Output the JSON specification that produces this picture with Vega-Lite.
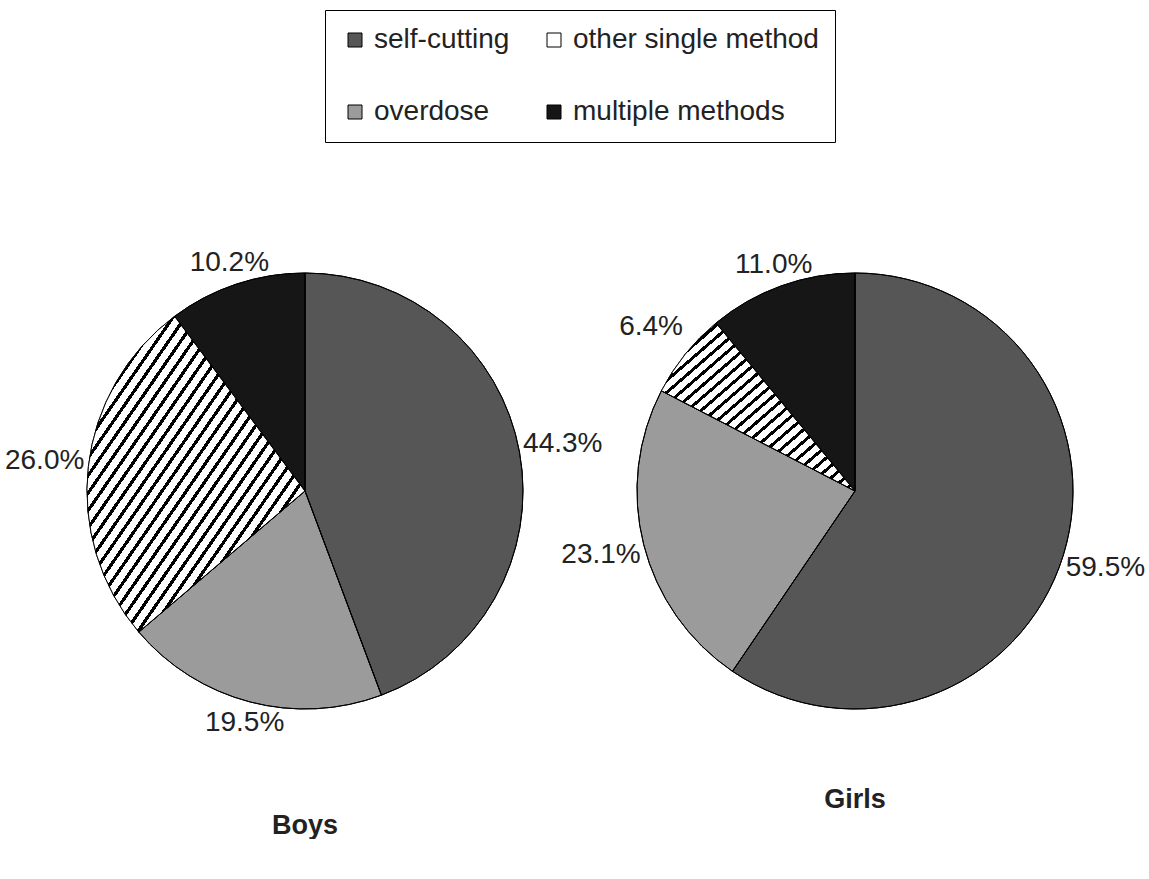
{
  "$schema": "https://vega.github.io/schema/vega-lite/v6.json",
  "padding": {"left": 0, "top": 9, "right": 0, "bottom": 0},
  "background": "white",
  "bounds": "flush",
  "data": {"values": [
    {"sex": "Boys", "method": "self-cutting", "pct": 44.3, "label": "44.3%", "ord": 1},
    {"sex": "Boys", "method": "overdose", "pct": 19.5, "label": "19.5%", "ord": 2},
    {"sex": "Boys", "method": "other single method", "pct": 26.0, "label": "26.0%", "ord": 3},
    {"sex": "Boys", "method": "multiple methods", "pct": 10.2, "label": "10.2%", "ord": 4},
    {"sex": "Girls", "method": "self-cutting", "pct": 59.5, "label": "59.5%", "ord": 1},
    {"sex": "Girls", "method": "overdose", "pct": 23.1, "label": "23.1%", "ord": 2},
    {"sex": "Girls", "method": "other single method", "pct": 6.4, "label": "6.4%", "ord": 3},
    {"sex": "Girls", "method": "multiple methods", "pct": 11.0, "label": "11.0%", "ord": 4}
  ]},
  "spacing": 0,
  "hconcat": [
    {
      "width": 610, "height": 600,
      "title": {"text": "Boys", "orient": "bottom", "offset": 22, "anchor": "middle"},
      "transform": [{"filter": "datum.sex === 'Boys'"}],
      "layer": [
        {
          "mark": {"type": "arc", "outerRadius": 218, "stroke": "#000000", "strokeWidth": 1},
          "encoding": {
            "theta": {"field": "pct", "type": "quantitative", "stack": true},
            "order": {"field": "ord", "type": "quantitative"},
            "color": {"field": "method", "type": "nominal",
              "scale": {"domain": ["self-cutting", "overdose", "other single method", "multiple methods"],
                "range": ["#565656", "#9b9b9b", "#ffffff", "#161616"]},
              "legend": {"title": null}}
          }
        },
        {
          "mark": {"type": "arc", "outerRadius": 218, "strokeWidth": 0,
            "fill": {"gradient": "linear", "x1": 0, "y1": 0, "x2": 1, "y2": 1, "stops": [
{"offset":0,"color":"#000"},{"offset":0.009,"color":"#000"},{"offset":0.009,"color":"#fff"},{"offset":0.0278,"color":"#fff"},
{"offset":0.0278,"color":"#000"},{"offset":0.0368,"color":"#000"},{"offset":0.0368,"color":"#fff"},{"offset":0.0556,"color":"#fff"},
{"offset":0.0556,"color":"#000"},{"offset":0.0646,"color":"#000"},{"offset":0.0646,"color":"#fff"},{"offset":0.0833,"color":"#fff"},
{"offset":0.0833,"color":"#000"},{"offset":0.0923,"color":"#000"},{"offset":0.0923,"color":"#fff"},{"offset":0.1111,"color":"#fff"},
{"offset":0.1111,"color":"#000"},{"offset":0.1201,"color":"#000"},{"offset":0.1201,"color":"#fff"},{"offset":0.1389,"color":"#fff"},
{"offset":0.1389,"color":"#000"},{"offset":0.1479,"color":"#000"},{"offset":0.1479,"color":"#fff"},{"offset":0.1667,"color":"#fff"},
{"offset":0.1667,"color":"#000"},{"offset":0.1757,"color":"#000"},{"offset":0.1757,"color":"#fff"},{"offset":0.1944,"color":"#fff"},
{"offset":0.1944,"color":"#000"},{"offset":0.2034,"color":"#000"},{"offset":0.2034,"color":"#fff"},{"offset":0.2222,"color":"#fff"},
{"offset":0.2222,"color":"#000"},{"offset":0.2312,"color":"#000"},{"offset":0.2312,"color":"#fff"},{"offset":0.25,"color":"#fff"},
{"offset":0.25,"color":"#000"},{"offset":0.259,"color":"#000"},{"offset":0.259,"color":"#fff"},{"offset":0.2778,"color":"#fff"},
{"offset":0.2778,"color":"#000"},{"offset":0.2868,"color":"#000"},{"offset":0.2868,"color":"#fff"},{"offset":0.3056,"color":"#fff"},
{"offset":0.3056,"color":"#000"},{"offset":0.3146,"color":"#000"},{"offset":0.3146,"color":"#fff"},{"offset":0.3333,"color":"#fff"},
{"offset":0.3333,"color":"#000"},{"offset":0.3423,"color":"#000"},{"offset":0.3423,"color":"#fff"},{"offset":0.3611,"color":"#fff"},
{"offset":0.3611,"color":"#000"},{"offset":0.3701,"color":"#000"},{"offset":0.3701,"color":"#fff"},{"offset":0.3889,"color":"#fff"},
{"offset":0.3889,"color":"#000"},{"offset":0.3979,"color":"#000"},{"offset":0.3979,"color":"#fff"},{"offset":0.4167,"color":"#fff"},
{"offset":0.4167,"color":"#000"},{"offset":0.4257,"color":"#000"},{"offset":0.4257,"color":"#fff"},{"offset":0.4444,"color":"#fff"},
{"offset":0.4444,"color":"#000"},{"offset":0.4534,"color":"#000"},{"offset":0.4534,"color":"#fff"},{"offset":0.4722,"color":"#fff"},
{"offset":0.4722,"color":"#000"},{"offset":0.4812,"color":"#000"},{"offset":0.4812,"color":"#fff"},{"offset":0.5,"color":"#fff"},
{"offset":0.5,"color":"#000"},{"offset":0.509,"color":"#000"},{"offset":0.509,"color":"#fff"},{"offset":0.5278,"color":"#fff"},
{"offset":0.5278,"color":"#000"},{"offset":0.5368,"color":"#000"},{"offset":0.5368,"color":"#fff"},{"offset":0.5556,"color":"#fff"},
{"offset":0.5556,"color":"#000"},{"offset":0.5646,"color":"#000"},{"offset":0.5646,"color":"#fff"},{"offset":0.5833,"color":"#fff"},
{"offset":0.5833,"color":"#000"},{"offset":0.5923,"color":"#000"},{"offset":0.5923,"color":"#fff"},{"offset":0.6111,"color":"#fff"},
{"offset":0.6111,"color":"#000"},{"offset":0.6201,"color":"#000"},{"offset":0.6201,"color":"#fff"},{"offset":0.6389,"color":"#fff"},
{"offset":0.6389,"color":"#000"},{"offset":0.6479,"color":"#000"},{"offset":0.6479,"color":"#fff"},{"offset":0.6667,"color":"#fff"},
{"offset":0.6667,"color":"#000"},{"offset":0.6757,"color":"#000"},{"offset":0.6757,"color":"#fff"},{"offset":0.6944,"color":"#fff"},
{"offset":0.6944,"color":"#000"},{"offset":0.7034,"color":"#000"},{"offset":0.7034,"color":"#fff"},{"offset":0.7222,"color":"#fff"},
{"offset":0.7222,"color":"#000"},{"offset":0.7312,"color":"#000"},{"offset":0.7312,"color":"#fff"},{"offset":0.75,"color":"#fff"},
{"offset":0.75,"color":"#000"},{"offset":0.759,"color":"#000"},{"offset":0.759,"color":"#fff"},{"offset":0.7778,"color":"#fff"},
{"offset":0.7778,"color":"#000"},{"offset":0.7868,"color":"#000"},{"offset":0.7868,"color":"#fff"},{"offset":0.8056,"color":"#fff"},
{"offset":0.8056,"color":"#000"},{"offset":0.8146,"color":"#000"},{"offset":0.8146,"color":"#fff"},{"offset":0.8333,"color":"#fff"},
{"offset":0.8333,"color":"#000"},{"offset":0.8423,"color":"#000"},{"offset":0.8423,"color":"#fff"},{"offset":0.8611,"color":"#fff"},
{"offset":0.8611,"color":"#000"},{"offset":0.8701,"color":"#000"},{"offset":0.8701,"color":"#fff"},{"offset":0.8889,"color":"#fff"},
{"offset":0.8889,"color":"#000"},{"offset":0.8979,"color":"#000"},{"offset":0.8979,"color":"#fff"},{"offset":0.9167,"color":"#fff"},
{"offset":0.9167,"color":"#000"},{"offset":0.9257,"color":"#000"},{"offset":0.9257,"color":"#fff"},{"offset":0.9444,"color":"#fff"},
{"offset":0.9444,"color":"#000"},{"offset":0.9534,"color":"#000"},{"offset":0.9534,"color":"#fff"},{"offset":0.9722,"color":"#fff"},
{"offset":0.9722,"color":"#000"},{"offset":0.9812,"color":"#000"},{"offset":0.9812,"color":"#fff"},{"offset":1,"color":"#fff"}
            ]}},
          "encoding": {
            "theta": {"field": "pct", "type": "quantitative", "stack": true},
            "order": {"field": "ord", "type": "quantitative"},
            "fillOpacity": {"condition": {"test": "datum.method === 'other single method'", "value": 1}, "value": 0}
          }
        },
        {
          "mark": {"type": "arc", "outerRadius": 218, "stroke": "#000000", "strokeWidth": 1, "fill": null},
          "encoding": {
            "theta": {"field": "pct", "type": "quantitative", "stack": true},
            "order": {"field": "ord", "type": "quantitative"}
          }
        },
        {
          "mark": {"type": "text", "radius": 262, "fontSize": 28, "font": "Liberation Sans", "color": "#222222"},
          "encoding": {
            "theta": {"field": "pct", "type": "quantitative", "stack": true},
            "order": {"field": "ord", "type": "quantitative"},
            "text": {"field": "label", "type": "nominal"},
            "opacity": {"condition": {"test": "datum.method === 'self-cutting' || datum.method === 'other single method'", "value": 1}, "value": 0}
          }
        },
        {
          "mark": {"type": "text", "radius": 240, "fontSize": 28, "font": "Liberation Sans", "color": "#222222"},
          "encoding": {
            "theta": {"field": "pct", "type": "quantitative", "stack": true},
            "order": {"field": "ord", "type": "quantitative"},
            "text": {"field": "label", "type": "nominal"},
            "opacity": {"condition": {"test": "datum.method === 'overdose' || datum.method === 'multiple methods'", "value": 1}, "value": 0}
          }
        }
      ]
    },
    {
      "width": 490, "height": 600,
      "title": {"text": "Girls", "orient": "bottom", "offset": -4, "anchor": "middle"},
      "transform": [{"filter": "datum.sex === 'Girls'"}],
      "layer": [
        {
          "mark": {"type": "arc", "outerRadius": 218, "stroke": "#000000", "strokeWidth": 1},
          "encoding": {
            "theta": {"field": "pct", "type": "quantitative", "stack": true},
            "order": {"field": "ord", "type": "quantitative"},
            "color": {"field": "method", "type": "nominal", "legend": {"title": null}}
          }
        },
        {
          "mark": {"type": "arc", "outerRadius": 218, "strokeWidth": 0,
            "fill": {"gradient": "linear", "x1": 0, "y1": 0, "x2": 1, "y2": 1, "stops": [
{"offset":0,"color":"#000"},{"offset":0.012,"color":"#000"},{"offset":0.012,"color":"#fff"},{"offset":0.0357,"color":"#fff"},
{"offset":0.0357,"color":"#000"},{"offset":0.0477,"color":"#000"},{"offset":0.0477,"color":"#fff"},{"offset":0.0714,"color":"#fff"},
{"offset":0.0714,"color":"#000"},{"offset":0.0834,"color":"#000"},{"offset":0.0834,"color":"#fff"},{"offset":0.1071,"color":"#fff"},
{"offset":0.1071,"color":"#000"},{"offset":0.1191,"color":"#000"},{"offset":0.1191,"color":"#fff"},{"offset":0.1429,"color":"#fff"},
{"offset":0.1429,"color":"#000"},{"offset":0.1549,"color":"#000"},{"offset":0.1549,"color":"#fff"},{"offset":0.1786,"color":"#fff"},
{"offset":0.1786,"color":"#000"},{"offset":0.1906,"color":"#000"},{"offset":0.1906,"color":"#fff"},{"offset":0.2143,"color":"#fff"},
{"offset":0.2143,"color":"#000"},{"offset":0.2263,"color":"#000"},{"offset":0.2263,"color":"#fff"},{"offset":0.25,"color":"#fff"},
{"offset":0.25,"color":"#000"},{"offset":0.262,"color":"#000"},{"offset":0.262,"color":"#fff"},{"offset":0.2857,"color":"#fff"},
{"offset":0.2857,"color":"#000"},{"offset":0.2977,"color":"#000"},{"offset":0.2977,"color":"#fff"},{"offset":0.3214,"color":"#fff"},
{"offset":0.3214,"color":"#000"},{"offset":0.3334,"color":"#000"},{"offset":0.3334,"color":"#fff"},{"offset":0.3571,"color":"#fff"},
{"offset":0.3571,"color":"#000"},{"offset":0.3691,"color":"#000"},{"offset":0.3691,"color":"#fff"},{"offset":0.3929,"color":"#fff"},
{"offset":0.3929,"color":"#000"},{"offset":0.4049,"color":"#000"},{"offset":0.4049,"color":"#fff"},{"offset":0.4286,"color":"#fff"},
{"offset":0.4286,"color":"#000"},{"offset":0.4406,"color":"#000"},{"offset":0.4406,"color":"#fff"},{"offset":0.4643,"color":"#fff"},
{"offset":0.4643,"color":"#000"},{"offset":0.4763,"color":"#000"},{"offset":0.4763,"color":"#fff"},{"offset":0.5,"color":"#fff"},
{"offset":0.5,"color":"#000"},{"offset":0.512,"color":"#000"},{"offset":0.512,"color":"#fff"},{"offset":0.5357,"color":"#fff"},
{"offset":0.5357,"color":"#000"},{"offset":0.5477,"color":"#000"},{"offset":0.5477,"color":"#fff"},{"offset":0.5714,"color":"#fff"},
{"offset":0.5714,"color":"#000"},{"offset":0.5834,"color":"#000"},{"offset":0.5834,"color":"#fff"},{"offset":0.6071,"color":"#fff"},
{"offset":0.6071,"color":"#000"},{"offset":0.6191,"color":"#000"},{"offset":0.6191,"color":"#fff"},{"offset":0.6429,"color":"#fff"},
{"offset":0.6429,"color":"#000"},{"offset":0.6549,"color":"#000"},{"offset":0.6549,"color":"#fff"},{"offset":0.6786,"color":"#fff"},
{"offset":0.6786,"color":"#000"},{"offset":0.6906,"color":"#000"},{"offset":0.6906,"color":"#fff"},{"offset":0.7143,"color":"#fff"},
{"offset":0.7143,"color":"#000"},{"offset":0.7263,"color":"#000"},{"offset":0.7263,"color":"#fff"},{"offset":0.75,"color":"#fff"},
{"offset":0.75,"color":"#000"},{"offset":0.762,"color":"#000"},{"offset":0.762,"color":"#fff"},{"offset":0.7857,"color":"#fff"},
{"offset":0.7857,"color":"#000"},{"offset":0.7977,"color":"#000"},{"offset":0.7977,"color":"#fff"},{"offset":0.8214,"color":"#fff"},
{"offset":0.8214,"color":"#000"},{"offset":0.8334,"color":"#000"},{"offset":0.8334,"color":"#fff"},{"offset":0.8571,"color":"#fff"},
{"offset":0.8571,"color":"#000"},{"offset":0.8691,"color":"#000"},{"offset":0.8691,"color":"#fff"},{"offset":0.8929,"color":"#fff"},
{"offset":0.8929,"color":"#000"},{"offset":0.9049,"color":"#000"},{"offset":0.9049,"color":"#fff"},{"offset":0.9286,"color":"#fff"},
{"offset":0.9286,"color":"#000"},{"offset":0.9406,"color":"#000"},{"offset":0.9406,"color":"#fff"},{"offset":0.9643,"color":"#fff"},
{"offset":0.9643,"color":"#000"},{"offset":0.9763,"color":"#000"},{"offset":0.9763,"color":"#fff"},{"offset":1,"color":"#fff"}
            ]}},
          "encoding": {
            "theta": {"field": "pct", "type": "quantitative", "stack": true},
            "order": {"field": "ord", "type": "quantitative"},
            "fillOpacity": {"condition": {"test": "datum.method === 'other single method'", "value": 1}, "value": 0}
          }
        },
        {
          "mark": {"type": "arc", "outerRadius": 218, "stroke": "#000000", "strokeWidth": 1, "fill": null},
          "encoding": {
            "theta": {"field": "pct", "type": "quantitative", "stack": true},
            "order": {"field": "ord", "type": "quantitative"}
          }
        },
        {
          "mark": {"type": "text", "radius": 262, "fontSize": 28, "font": "Liberation Sans", "color": "#222222"},
          "encoding": {
            "theta": {"field": "pct", "type": "quantitative", "stack": true},
            "order": {"field": "ord", "type": "quantitative"},
            "text": {"field": "label", "type": "nominal"},
            "opacity": {"condition": {"test": "datum.method !== 'multiple methods'", "value": 1}, "value": 0}
          }
        },
        {
          "mark": {"type": "text", "radius": 240, "fontSize": 28, "font": "Liberation Sans", "color": "#222222"},
          "encoding": {
            "theta": {"field": "pct", "type": "quantitative", "stack": true},
            "order": {"field": "ord", "type": "quantitative"},
            "text": {"field": "label", "type": "nominal"},
            "opacity": {"condition": {"test": "datum.method === 'multiple methods'", "value": 1}, "value": 0}
          }
        }
      ]
    }
  ],
  "resolve": {"scale": {"color": "shared"}},
  "config": {
    "view": {"stroke": null},
    "title": {"font": "Liberation Sans", "fontSize": 27, "fontWeight": "bold", "color": "#222222"},
    "legend": {
      "orient": "none", "legendX": 325, "legendY": -181,
      "columns": 2, "strokeColor": "#000000", "padding": 16,
      "labelFont": "Liberation Sans", "labelFontSize": 28, "labelColor": "#222222", "labelLimit": 400,
      "labelOffset": 5, "symbolType": "square", "symbolSize": 196, "symbolStrokeColor": "#000000", "symbolStrokeWidth": 1,
      "rowPadding": 44, "columnPadding": 30
    }
  }
}
